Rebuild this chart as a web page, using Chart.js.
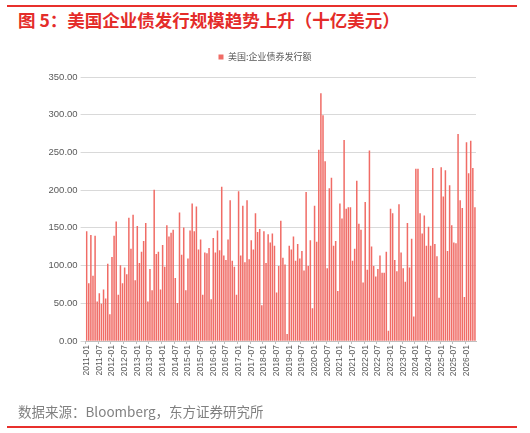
<!DOCTYPE html>
<html>
<head>
<meta charset="utf-8">
<script src="https://cdn.jsdelivr.net/npm/chart.js@4.4.1/dist/chart.umd.min.js"></script>
<style>
html,body{margin:0;padding:0;background:#ffffff;}
#wrap{position:relative;width:530px;height:433px;overflow:hidden;background:#fff;}
.rule{position:absolute;left:7px;width:510px;height:1.5px;background:#e8302c;}
#title{position:absolute;left:18px;top:8px;font-family:"Noto Sans CJK SC",sans-serif;font-weight:bold;font-size:17.5px;line-height:24px;color:#e42c2a;white-space:nowrap;}
#source{position:absolute;left:18px;top:402px;font-family:"Noto Sans CJK SC",sans-serif;font-size:13.5px;line-height:18px;color:#808080;white-space:nowrap;}
#chart{position:absolute;left:0;top:0;}
</style>
</head>
<body>
<div id="wrap">
  <div class="rule" style="top:5px"></div>
  <div id="title">图 5：美国企业债发行规模趋势上升（十亿美元）</div>
  <canvas id="chart" width="530" height="433"></canvas>
  <div id="source">数据来源：Bloomberg，东方证券研究所</div>
  <div class="rule" style="top:426px"></div>
</div>
<script>
// ---- data (monthly, starting 2011-01) ----
const seriesName = "美国:企业债券发行额";
const startYear = 2011;
const startMonth = 1;
const issuance = [
  145, 76, 140, 86, 139, 52, 63, 49, 68, 56, 102, 35,
  111, 139, 158, 61, 100, 76, 97, 88, 163, 122, 167, 80,
  152, 103, 118, 132, 156, 52, 95, 67, 200, 115, 118, 68,
  127, 98, 153, 138, 143, 147, 83, 50, 170, 114, 150, 67,
  109, 146, 182, 145, 178, 121, 134, 61, 117, 116, 123, 55,
  136, 117, 146, 120, 204, 113, 107, 134, 186, 106, 98, 61,
  198, 113, 179, 104, 186, 108, 133, 121, 169, 144, 148, 47,
  145, 103, 141, 130, 142, 126, 64, 99, 159, 110, 101, 9,
  126, 121, 138, 106, 128, 109, 119, 93, 197, 99, 133, 43,
  179, 131, 253, 328, 299, 238, 96, 202, 216, 126, 132, 66,
  182, 162, 266, 175, 177, 177, 106, 122, 212, 155, 147, 77,
  184, 94, 252, 125, 99, 85, 95, 113, 90, 90, 118, 13,
  175, 169, 107, 92, 181, 117, 96, 78, 156, 97, 135, 32,
  228, 228, 169, 142, 166, 126, 151, 126, 229, 128, 112, 57,
  230, 191, 226, 119, 206, 153, 130, 129, 274, 186, 176, 58,
  263, 222, 265, 229, 177
];
const yTicks = [0, 50, 100, 150, 200, 250, 300, 350];
const labelEvery = 6;

// category labels YYYY-MM
const months = [];
for (let i = 0; i < issuance.length; i++) {
  const t = (startMonth - 1) + i;
  const y = startYear + Math.floor(t / 12);
  const m = (t % 12) + 1;
  months.push(y + "-" + (m < 10 ? "0" + m : "" + m));
}

const axisText = "#595959";

// shift the legend so it is centred on the page like the original
const legendShift = {
  id: "legendShift",
  afterLayout(chart) {
    const lg = chart.legend;
    if (lg) { lg.left += 27; lg.right += 27; }
  }
};

new Chart(document.getElementById("chart"), {
  type: "bar",
  data: {
    labels: months,
    datasets: [{
      label: seriesName,
      data: issuance,
      backgroundColor: "rgb(240,108,102)",
      borderWidth: 0,
      barThickness: 0.85
    }]
  },
  plugins: [legendShift],
  options: {
    responsive: false,
    animation: false,
    devicePixelRatio: 1,
    layout: { padding: { top: 42.5, left: 0, right: 54, bottom: 40 } },
    plugins: {
      legend: {
        display: true,
        position: "top",
        labels: {
          boxWidth: 5, boxHeight: 5, padding: 10,
          color: axisText,
          font: { family: "'Noto Sans CJK SC', sans-serif", size: 9 }
        }
      },
      title: {
        display: true, text: "", weight: 500,
        font: { size: 1, lineHeight: 1.2 },
        padding: { top: 0, bottom: 4.3 }
      },
      tooltip: { enabled: false }
    },
    scales: {
      x: {
        type: "category",
        offset: true,
        afterFit: (s) => { s.height = 52; },
        grid: {
          drawOnChartArea: false,
          drawTicks: true,
          tickLength: 3,
          color: (ctx) => (ctx.index % labelEvery === 0 ? "#bfbfbf" : "rgba(0,0,0,0)")
        },
        border: { display: true, color: "#bfbfbf", width: 1 },
        ticks: {
          autoSkip: false,
          minRotation: 90,
          maxRotation: 90,
          padding: 1,
          color: axisText,
          font: { family: "'Liberation Sans', Arial, sans-serif", size: 8.5 },
          callback: function (v, i) { return i % labelEvery === 0 ? months[i] : ""; }
        }
      },
      y: {
        min: 0,
        max: 350,
        afterFit: (s) => { s.width = 85.6; },
        afterBuildTicks: (s) => { s.ticks = yTicks.map(v => ({ value: v })); },
        grid: { color: "#d9d9d9", lineWidth: 1, tickLength: 5, drawTicks: true },
        border: { display: false },
        ticks: {
          padding: 3,
          color: axisText,
          font: { family: "'Liberation Sans', Arial, sans-serif", size: 9.5 },
          callback: (v) => Number(v).toFixed(2)
        }
      }
    }
  }
});
</script>
</body>
</html>
